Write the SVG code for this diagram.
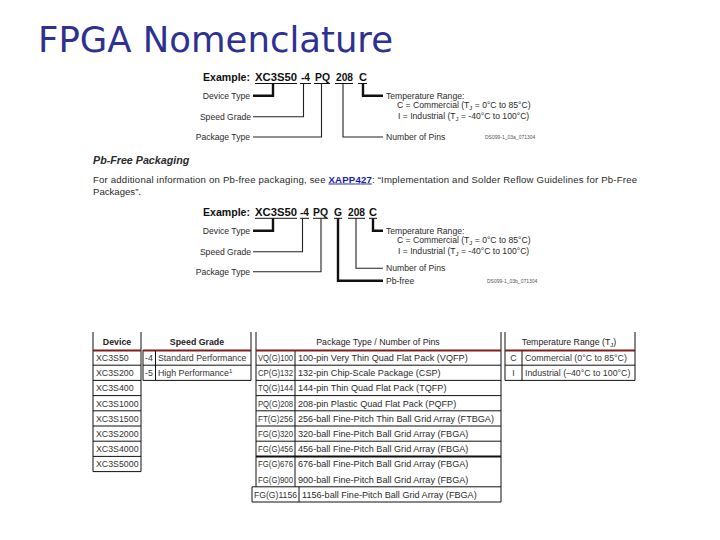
<svg xmlns="http://www.w3.org/2000/svg" width="720" height="540" viewBox="0 0 720 540">
<style>
text{font-family:"Liberation Sans",Arial,sans-serif;fill:#2a2a2a}
.title{font-family:"DejaVu Sans",Verdana,sans-serif;font-size:36px;fill:#2e3192}
.ex{font-size:11.5px;font-weight:bold;fill:#111}
.lbl{font-size:8.6px}
.code{font-size:5px;fill:#555}
.thb{font-size:8.8px;font-weight:bold;fill:#222}
.th{font-size:8.8px;fill:#222}
.td{font-size:8.8px;fill:#333}
.ul{stroke:#111;stroke-width:1;fill:none}
.thick{stroke:#111;stroke-width:2.4;fill:none}
.thin{stroke:#222;stroke-width:1.1;fill:none}
.grid{stroke:#111;stroke-width:1;fill:none}
.red{stroke:#7e1f1f;stroke-width:2;fill:none}
</style>
<rect width="720" height="540" fill="#fff"/>
<text class="title" x="38" y="52" textLength="355" lengthAdjust="spacingAndGlyphs">FPGA Nomenclature</text>

<g id="example1">
<text class="ex" x="203" y="81" textLength="47" lengthAdjust="spacingAndGlyphs">Example:</text>
<text class="ex" x="255" y="81" textLength="42" lengthAdjust="spacingAndGlyphs">XC3S50</text>
<text class="ex" x="301" y="81" textLength="9" lengthAdjust="spacingAndGlyphs">-4</text>
<text class="ex" x="315" y="81" textLength="15" lengthAdjust="spacingAndGlyphs">PQ</text>
<text class="ex" x="336" y="81" textLength="17" lengthAdjust="spacingAndGlyphs">208</text>
<text class="ex" x="359" y="81" textLength="8" lengthAdjust="spacingAndGlyphs">C</text>
<path class="ul" d="M255 83.5H297M300 83.5H311M314 83.5H330M335 83.5H353M358 83.5H367"/>
<text class="lbl" x="250" y="99" text-anchor="end">Device Type</text>
<text class="lbl" x="251" y="120" text-anchor="end">Speed Grade</text>
<text class="lbl" x="250" y="140" text-anchor="end">Package Type</text>
<text class="lbl" x="386" y="99">Temperature Range:</text>
<text class="lbl" x="397" y="108">C = Commercial (T<tspan font-size="6" dy="2">J</tspan><tspan dy="-2"> = 0°C to 85°C)</tspan></text>
<text class="lbl" x="398" y="118.5">I = Industrial (T<tspan font-size="6" dy="2">J</tspan><tspan dy="-2"> = -40°C to 100°C)</tspan></text>
<text class="lbl" x="386" y="140">Number of Pins</text>
<text class="code" x="485" y="139">DS099-1_03a_071304</text>
</g>

<g id="connectors1">
<path class="thick" d="M253 95.7H273V83.5"/>
<path class="thin" d="M253 116.7H303.5V83.5"/>
<path class="thin" d="M253 137H321.5V83.5" stroke-width="1.5"/>
<path class="thin" d="M383 137H343V83.5" stroke-width="1.5"/>
<path class="thick" d="M383 95.7H363V83.5"/>
</g>

<g id="pbfree">
<text x="93" y="164" font-size="10.7" font-weight="bold" font-style="italic" fill="#222">Pb-Free Packaging</text>
<text x="93" y="182.5" font-size="9.6" textLength="544" lengthAdjust="spacing">For additional information on Pb-free packaging, see <tspan font-weight="bold" fill="#1a1aa8" text-decoration="underline">XAPP427</tspan>: “Implementation and Solder Reflow Guidelines for Pb-Free</text>
<text x="93" y="195" font-size="9.6">Packages”.</text>
</g>

<g id="example2">
<text class="ex" x="203" y="215.5" textLength="47" lengthAdjust="spacingAndGlyphs">Example:</text>
<text class="ex" x="255" y="215.5" textLength="42" lengthAdjust="spacingAndGlyphs">XC3S50</text>
<text class="ex" x="300" y="215.5" textLength="9" lengthAdjust="spacingAndGlyphs">-4</text>
<text class="ex" x="313" y="215.5" textLength="15" lengthAdjust="spacingAndGlyphs">PQ</text>
<text class="ex" x="334" y="215.5" textLength="8" lengthAdjust="spacingAndGlyphs">G</text>
<text class="ex" x="348" y="215.5" textLength="17" lengthAdjust="spacingAndGlyphs">208</text>
<text class="ex" x="369" y="215.5" textLength="8" lengthAdjust="spacingAndGlyphs">C</text>
<path class="ul" d="M255 218.3H297M300 218.3H309M313 218.3H328M334 218.3H342M348 218.3H365M369 218.3H377"/>
<text class="lbl" x="250" y="234" text-anchor="end">Device Type</text>
<text class="lbl" x="251" y="255" text-anchor="end">Speed Grade</text>
<text class="lbl" x="250" y="275" text-anchor="end">Package Type</text>
<text class="lbl" x="386" y="234">Temperature Range:</text>
<text class="lbl" x="397" y="243">C = Commercial (T<tspan font-size="6" dy="2">J</tspan><tspan dy="-2"> = 0°C to 85°C)</tspan></text>
<text class="lbl" x="398" y="253.5">I = Industrial (T<tspan font-size="6" dy="2">J</tspan><tspan dy="-2"> = -40°C to 100°C)</tspan></text>
<text class="lbl" x="386" y="271">Number of Pins</text>
<text class="lbl" x="386" y="283.5">Pb-free</text>
<text class="code" x="487" y="283">DS099-1_03b_071304</text>
</g>

<g id="connectors2">
<path class="thick" d="M253 230.7H273V218.3"/>
<path class="thin" d="M253 251.7H302.5V218.3"/>
<path class="thin" d="M253 271.7H321V218.3" stroke-width="1.8"/>
<path class="thick" d="M383 280.7H338V218.3"/>
<path class="thin" d="M383 268.3H356V218.3" stroke-width="1.5"/>
<path class="thick" d="M383 230.7H373V218.3"/>
</g>

<g id="table-device">
<text class="thb" x="117" y="344.5" text-anchor="middle">Device</text>
<path class="grid" d="M93 332V471.6M141 332V471.6"/>
<path class="red" d="M93 350.5H141"/>
<path class="grid" d="M93 365.2H141M93 380.4H141M93 395.6H141M93 410.8H141M93 426H141M93 441.2H141M93 456.4H141M93 471.6H141"/>
<text class="td" x="96" y="361">XC3S50</text>
<text class="td" x="96" y="376.2">XC3S200</text>
<text class="td" x="96" y="391.4">XC3S400</text>
<text class="td" x="96" y="406.6">XC3S1000</text>
<text class="td" x="96" y="421.8">XC3S1500</text>
<text class="td" x="96" y="437">XC3S2000</text>
<text class="td" x="96" y="452.2">XC3S4000</text>
<text class="td" x="96" y="467.4">XC3S5000</text>
</g>

<g id="table-speed">
<text class="thb" x="197" y="344.5" text-anchor="middle">Speed Grade</text>
<path class="grid" d="M251 332V380.4M143 350V380.4M155.5 350V380.4"/>
<path class="red" d="M143 350.5H251"/>
<path class="grid" d="M143 365.2H251M143 380.4H251"/>
<text class="td" x="145" y="361">-4</text>
<text class="td" x="158" y="361">Standard Performance</text>
<text class="td" x="145" y="376.2">-5</text>
<text class="td" x="158" y="376.2">High Performance<tspan font-size="6" dy="-3">1</tspan></text>
</g>

<g id="table-package">
<text class="th" x="378" y="344.5" text-anchor="middle">Package Type / Number of Pins</text>
<path class="grid" d="M256 332V486.8M501 332V502M295 350V486.8M252 486.8V502M299 486.8V502"/>
<path class="red" d="M256 350.5H501"/>
<path class="grid" d="M256 365.2H501M256 380.4H501M256 395.6H501M256 410.8H501M256 426H501M256 441.2H501M252 486.8H501M252 502H501"/>
<path d="M256 456.4H501" stroke="#111" stroke-width="2"/>
<g class="codes">
<text class="td" x="258" y="361" textLength="35" lengthAdjust="spacingAndGlyphs">VQ(G)100</text>
<text class="td" x="258" y="376.2" textLength="35" lengthAdjust="spacingAndGlyphs">CP(G)132</text>
<text class="td" x="258" y="391.4" textLength="35" lengthAdjust="spacingAndGlyphs">TQ(G)144</text>
<text class="td" x="258" y="406.6" textLength="35" lengthAdjust="spacingAndGlyphs">PQ(G)208</text>
<text class="td" x="258" y="421.8" textLength="35" lengthAdjust="spacingAndGlyphs">FT(G)256</text>
<text class="td" x="258" y="437" textLength="35" lengthAdjust="spacingAndGlyphs">FG(G)320</text>
<text class="td" x="258" y="452.2" textLength="35" lengthAdjust="spacingAndGlyphs">FG(G)456</text>
<text class="td" x="258" y="467.4" textLength="35" lengthAdjust="spacingAndGlyphs">FG(G)676</text>
<text class="td" x="258" y="482.6" textLength="35" lengthAdjust="spacingAndGlyphs">FG(G)900</text>
<text class="td" x="254" y="497.8" textLength="43" lengthAdjust="spacingAndGlyphs">FG(G)1156</text>
</g>
<g font-size="9.1">
<text x="298" y="361" font-size="9.1">100-pin Very Thin Quad Flat Pack (VQFP)</text>
<text x="298" y="376.2" font-size="9.1">132-pin Chip-Scale Package (CSP)</text>
<text x="298" y="391.4" font-size="9.1">144-pin Thin Quad Flat Pack (TQFP)</text>
<text x="298" y="406.6" font-size="9.1">208-pin Plastic Quad Flat Pack (PQFP)</text>
<text x="298" y="421.8" font-size="9.1">256-ball Fine-Pitch Thin Ball Grid Array (FTBGA)</text>
<text x="298" y="437" font-size="9.1">320-ball Fine-Pitch Ball Grid Array (FBGA)</text>
<text x="298" y="452.2" font-size="9.1">456-ball Fine-Pitch Ball Grid Array (FBGA)</text>
<text x="298" y="467.4" font-size="9.1">676-ball Fine-Pitch Ball Grid Array (FBGA)</text>
<text x="298" y="482.6" font-size="9.1">900-ball Fine-Pitch Ball Grid Array (FBGA)</text>
<text x="302" y="497.8" font-size="9.1">1156-ball Fine-Pitch Ball Grid Array (FBGA)</text>
</g>
</g>

<g id="table-temp">
<text class="th" x="569" y="344.5" text-anchor="middle">Temperature Range (T<tspan font-size="6" dy="2">J</tspan><tspan dy="-2">)</tspan></text>
<path class="grid" d="M505 332V380.4M635 332V380.4M522 350V380.4"/>
<path class="red" d="M505 350.5H635"/>
<path class="grid" d="M505 365.2H635M505 380.4H635"/>
<text class="td" x="513.5" y="361" text-anchor="middle">C</text>
<text class="td" x="525" y="361">Commercial (0°C to 85°C)</text>
<text class="td" x="513.5" y="376.2" text-anchor="middle">I</text>
<text class="td" x="525" y="376.2">Industrial (–40°C to 100°C)</text>
</g>
</svg>
